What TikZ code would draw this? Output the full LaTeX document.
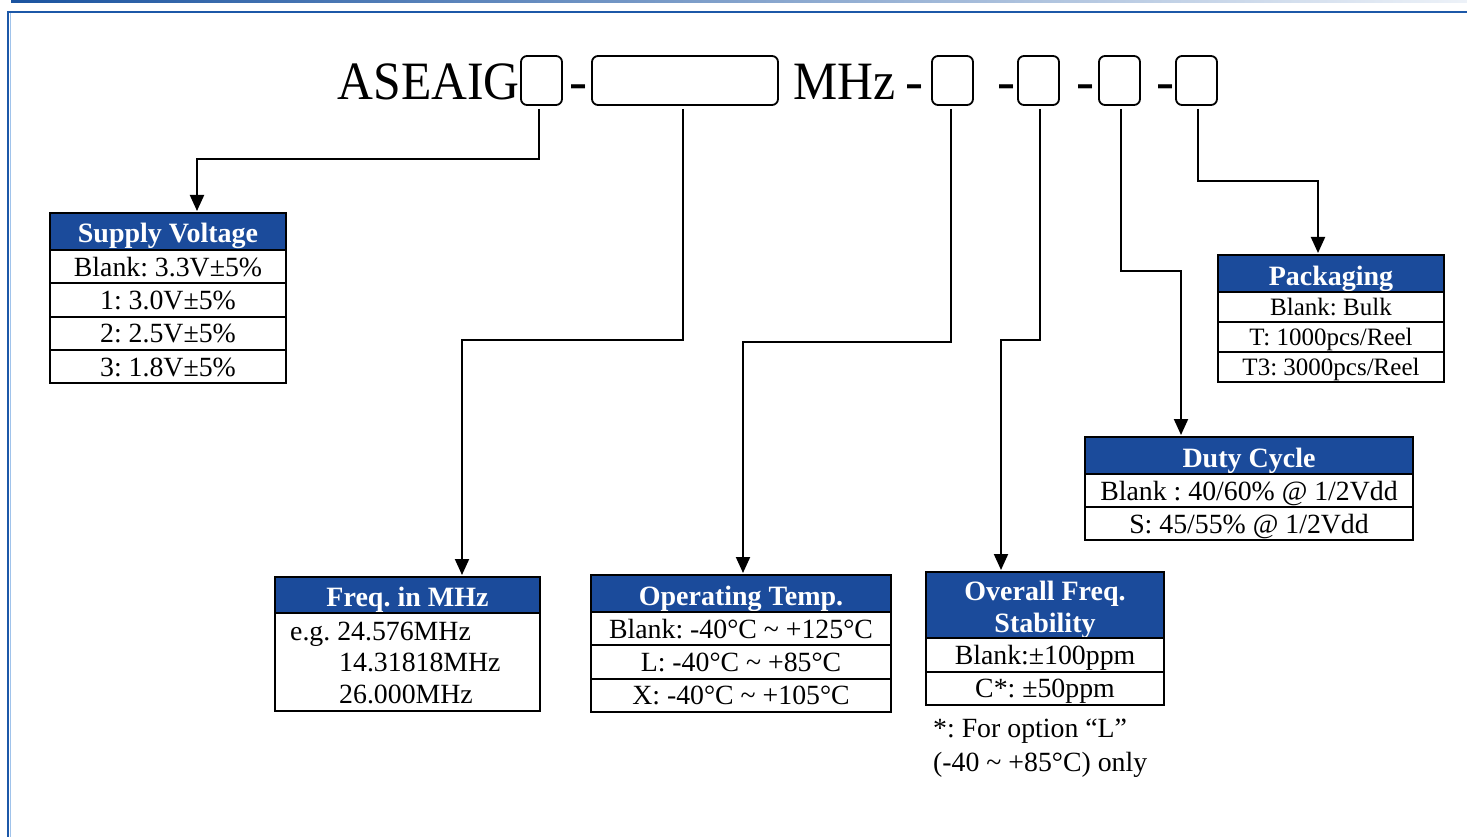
\documentclass[tikz,border=0pt]{standalone}
\usepackage{fontspec}
\setmainfont{Liberation Serif}
\usetikzlibrary{arrows.meta}
\definecolor{hdrblue}{RGB}{27,75,155}
\definecolor{frameblue}{RGB}{28,88,168}
\definecolor{lightblue}{RGB}{160,195,235}
\newcommand\bodyfont{\fontsize{27.8}{30}\selectfont}
\newcommand\smallbodyfont{\fontsize{25}{28}\selectfont}
\newcommand\headfont{\fontsize{28}{32}\selectfont\bfseries}
\newcommand\titlefont{\fontsize{54}{60}\selectfont}
\tikzset{
  hd/.style={draw=black, line width=2pt, fill=hdrblue, text=white, font=\headfont,
    anchor=north west, inner sep=0pt, outer sep=0pt, align=center},
  hd1/.style={hd, text height=23pt, text depth=0pt},
  cell/.style={draw=black, line width=2pt, font=\bodyfont, anchor=north west,
    inner sep=0pt, outer sep=0pt, text height=19pt, text depth=0pt},
  pcell/.style={cell, font=\smallbodyfont, text height=16.5pt},
  slot/.style={draw=black, line width=1.8pt, rounded corners=6pt, minimum width=41pt,
    minimum height=49pt, inner sep=0pt, outer sep=0pt, anchor=north west},
  ttl/.style={font=\titlefont, inner sep=0pt, anchor=base west},
  conn/.style={draw=black, line width=2pt, -{Triangle[width=14pt,length=16pt]},
    shorten <=4pt, shorten >=2pt},
  note/.style={font=\bodyfont, inner sep=0pt, anchor=base west},
}
\begin{document}
\frenchspacing
\begin{tikzpicture}[x=1pt,y=-1pt]
\useasboundingbox (0,0) rectangle (1467,837);
% frame
\shade[left color=frameblue!95!black, middle color=frameblue!75, right color=frameblue!8] (11,0) rectangle (1467,3);
\draw[frameblue, line width=2.2pt] (7,12) -- (1467,12);
\draw[frameblue, line width=2.5pt] (8,11) -- (8,837);
\draw[lightblue, line width=1pt] (10,13) -- (10,837);

% title line
\node[ttl, anchor=base east] (t1) at (520,100) {\scalebox{0.92}[1]{ASEAIG}};
\node[slot] (b1) at (521,56) {};
\node[ttl, anchor=base] (d1) at (578,100) {-};
\node[slot, minimum width=186pt] (b2) at (592,56) {};
\node[ttl] (mhz) at (793,100) {\scalebox{0.92}[1]{MHz}};
\node[ttl, anchor=base] (d2) at (914,100) {-};
\node[slot] (b3) at (932,56) {};
\node[ttl, anchor=base] (d3) at (1006,100) {-};
\node[slot] (b4) at (1018,56) {};
\node[ttl, anchor=base] (d4) at (1085,100) {-};
\node[slot] (b5) at (1099,56) {};
\node[ttl, anchor=base] (d5) at (1165,100) {-};
\node[slot] (b6) at (1176,56) {};

% Supply Voltage
\node[hd1, minimum width=236pt, minimum height=37pt] (svh) at (50,213) {Supply Voltage};
\node[cell, minimum width=236pt, minimum height=33.3pt] (sv1) at (svh.south west) {Blank: 3.3V±5\%};
\node[cell, minimum width=236pt, minimum height=33.3pt] (sv2) at (sv1.south west) {1: 3.0V±5\%};
\node[cell, minimum width=236pt, minimum height=33.3pt] (sv3) at (sv2.south west) {2: 2.5V±5\%};
\node[cell, minimum width=236pt, minimum height=33.3pt] (sv4) at (sv3.south west) {3: 1.8V±5\%};

% Freq in MHz
\node[hd1, minimum width=265pt, minimum height=36pt] (frh) at (275,577) {Freq. in MHz};
\node[cell, minimum width=265pt, minimum height=98pt] (frb) at (frh.south west) {};
\node[note] (fr1) at (290,640) {e.g. 24.576MHz};
\node[note] (fr2) at (339,671) {14.31818MHz};
\node[note] (fr3) at (339,703) {26.000MHz};

% Operating Temp
\node[hd1, minimum width=300pt, minimum height=37pt] (oth) at (591,575) {Operating Temp.};
\node[cell, minimum width=300pt, minimum height=33.3pt] (ot1) at (oth.south west) {Blank: -40°C \textasciitilde{} +125°C};
\node[cell, minimum width=300pt, minimum height=33.3pt] (ot2) at (ot1.south west) {L: -40°C \textasciitilde{} +85°C};
\node[cell, minimum width=300pt, minimum height=33.3pt] (ot3) at (ot2.south west) {X: -40°C \textasciitilde{} +105°C};

% Overall Freq Stability
\node[hd, minimum width=238pt, minimum height=65pt] (ofh) at (926,572) {\rule{0pt}{28pt}Overall Freq.\\Stability};
\node[cell, minimum width=238pt, minimum height=33.5pt] (of1) at (ofh.south west) {Blank:±100ppm};
\node[cell, minimum width=238pt, minimum height=33.5pt] (of2) at (of1.south west) {C*: ±50ppm};
\node[note] (n1) at (933,737) {*: For option “L”};
\node[note] (n2) at (933,771) {(-40 \textasciitilde{} +85°C) only};

% Duty Cycle
\node[hd1, minimum width=328pt, minimum height=37pt] (dch) at (1085,437) {Duty Cycle};
\node[cell, minimum width=328pt, minimum height=33pt] (dc1) at (dch.south west) {Blank : 40/60\% @ 1/2Vdd};
\node[cell, minimum width=328pt, minimum height=33pt] (dc2) at (dc1.south west) {S: 45/55\% @ 1/2Vdd};

% Packaging
\node[hd1, minimum width=226pt, minimum height=37pt] (pkh) at (1218,255) {Packaging};
\node[pcell, minimum width=226pt, minimum height=30pt] (pk1) at (pkh.south west) {Blank: Bulk};
\node[pcell, minimum width=226pt, minimum height=30pt] (pk2) at (pk1.south west) {T: 1000pcs/Reel};
\node[pcell, minimum width=226pt, minimum height=30pt] (pk3) at (pk2.south west) {T3: 3000pcs/Reel};

% connectors
\draw[conn] ([xshift=-3pt]b1.south) -- ++(0,54) -| ([xshift=29pt]svh.north);
\draw[conn] ([xshift=-2pt]b2.south) -- ++(0,235) -| ([xshift=54.5pt]frh.north);
\draw[conn] ([xshift=-1.5pt]b3.south) -- ++(0,237) -| ([xshift=2pt]oth.north);
\draw[conn] ([xshift=1.5pt]b4.south) -- ++(0,235) -| ([xshift=-44pt]ofh.north);
\draw[conn] ([xshift=1.5pt]b5.south) -- ++(0,166) -| ([xshift=-68pt]dch.north);
\draw[conn] ([xshift=1.5pt]b6.south) -- ++(0,76) -| ([xshift=-13pt]pkh.north);
\end{tikzpicture}
\end{document}
